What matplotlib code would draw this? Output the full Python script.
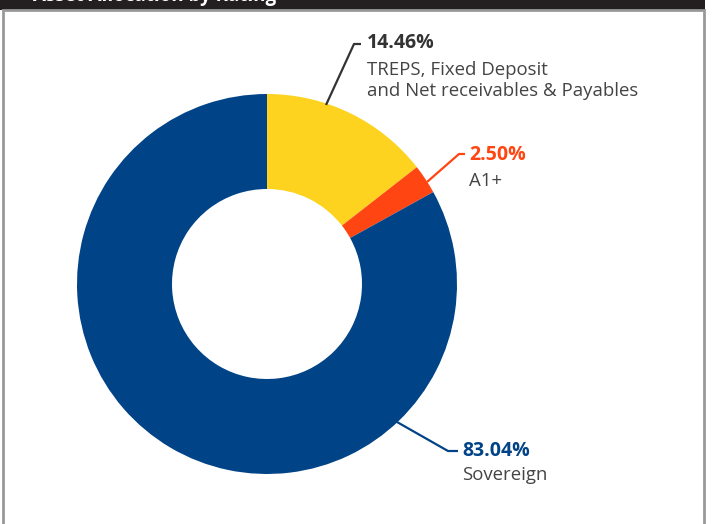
import matplotlib
matplotlib.use('Agg')
import matplotlib.pyplot as plt
from matplotlib.patches import Rectangle

plt.rcParams['font.family'] = ['Open Sans', 'DejaVu Sans']

# Data
labels = ['TREPS, Fixed Deposit\nand Net receivables & Payables', 'A1+', 'Sovereign']
shares = [14.46, 2.50, 83.04]
colors = ['#FDD320', '#FF4511', '#004387']
pct_colors = ['#333333', '#FF4511', '#004387']

W, H = 715, 524
fig = plt.figure(figsize=(W / 100, H / 100), dpi=100)
ax = fig.add_axes([0, 0, 1, 1])

# donut (pixel-like coordinates, y measured from the bottom)
ax.pie(shares, colors=colors, startangle=90, counterclock=False,
       center=(267, H - 284), radius=190,
       wedgeprops=dict(width=95, edgecolor='none'))
ax.set_xlim(0, W)
ax.set_ylim(0, H)
ax.set_aspect('equal')
ax.axis('off')

# header band and frame
fig.patches.append(Rectangle((0, H - 10), 705, 10, transform=None,
                             facecolor='#231F20', edgecolor='none', zorder=0))
fig.patches.append(Rectangle((3, -5), 701, H - 10 + 5, transform=None,
                             facecolor='none', edgecolor='#999999', lw=2, zorder=0))
fig.text(33 / W, (H - 0.5) / H, 'Asset Allocation by Rating', color='white',
         fontsize=13.5, fontweight='bold', va='baseline', ha='left')

# leader lines: (start, elbow, end) and text anchor for each slice
leaders = [
    [(326, 105), (354, 44), (361, 44)],
    [(427, 182), (459, 154), (465, 154)],
    [(397, 422), (448, 451), (458, 451)],
]
text_pos = [(367, 43), (469, 155), (462, 451)]
label_gap = [18, 17, 15]

for i in range(len(shares)):
    xs = [p[0] for p in leaders[i]]
    ys = [H - p[1] for p in leaders[i]]
    ax.plot(xs, ys, color=pct_colors[i], lw=1.6, solid_capstyle='butt')
    tx, ty = text_pos[i]
    ax.text(tx, H - ty, f'{shares[i]:.2f}%', color=pct_colors[i],
            fontsize=14, fontweight='bold', va='center', ha='left')
    ax.text(tx, H - ty - label_gap[i], labels[i], color='#444444', fontsize=13.4,
            va='top', ha='left', linespacing=1.2)

fig.savefig('out.png', dpi=100, facecolor='white')
